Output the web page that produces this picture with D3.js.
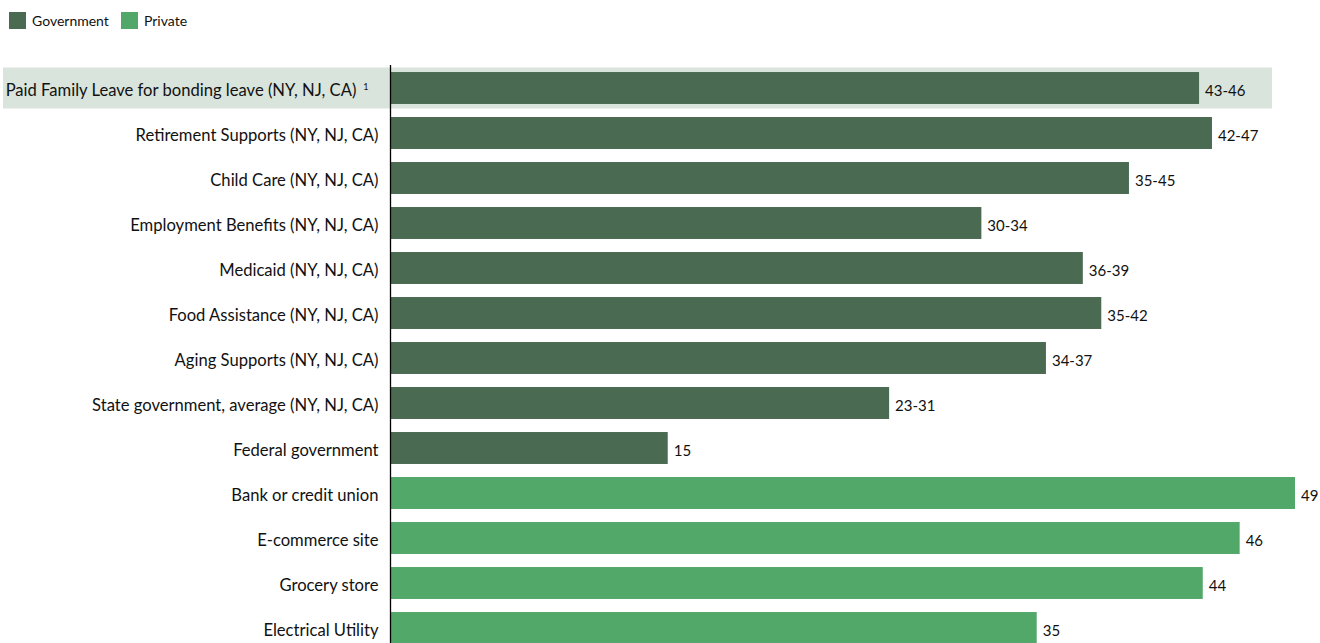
<!DOCTYPE html>
<html>
<head>
<meta charset="utf-8">
<script src="https://cdn.jsdelivr.net/npm/d3@7"></script>
<style>
  body { margin: 0; background: #fff; }
  svg { font-family: Lato, "Open Sans", sans-serif; }
</style>
</head>
<body>
<svg id="chart" width="1320" height="643"></svg>
<script>
// categories, top to bottom
const categories = [
    'Paid Family Leave for bonding leave (NY, NJ, CA)',
    'Retirement Supports (NY, NJ, CA)',
    'Child Care (NY, NJ, CA)',
    'Employment Benefits (NY, NJ, CA)',
    'Medicaid (NY, NJ, CA)',
    'Food Assistance (NY, NJ, CA)',
    'Aging Supports (NY, NJ, CA)',
    'State government, average (NY, NJ, CA)',
    'Federal government',
    'Bank or credit union',
    'E-commerce site',
    'Grocery store',
    'Electrical Utility'
];
const groups = ['Government', 'Government', 'Government', 'Government', 'Government',
    'Government', 'Government', 'Government', 'Government',
    'Private', 'Private', 'Private', 'Private'];
// bar length (ranges drawn near their midpoint)
const values = [43.8, 44.5, 40, 32, 37.5, 38.5, 35.5, 27, 15, 49, 46, 44, 35];
const valueLabels = ['43-46', '42-47', '35-45', '30-34', '36-39', '35-42', '34-37',
    '23-31', '15', '49', '46', '44', '35'];
const legendKeys = ['Government', 'Private'];

const color = d3.scaleOrdinal()
    .domain(legendKeys)
    .range(['#4a6b51', '#52a868']);

const svg = d3.select('#chart');
const margin = {top: 65, left: 391};

const x = d3.scaleLinear()
    .domain([0, 49])
    .range([margin.left, 1295]);
const y = d3.scaleBand()
    .domain(categories)
    .range([65.5, 65.5 + 45 * categories.length])
    .paddingInner(0.29)
    .paddingOuter(0.145);

// highlight band for the first row
const hl = categories[0];
svg.append('rect')
    .attr('x', 3)
    .attr('y', y(hl) + y.bandwidth() / 2 - 20.5)
    .attr('width', 1269)
    .attr('height', 41)
    .attr('fill', '#d9e4dc');

// bars
svg.append('g')
    .selectAll('rect')
    .data(categories).enter().append('rect')
    .attr('x', x(0))
    .attr('y', d => y(d))
    .attr('width', (d, i) => x(values[i]) - x(0))
    .attr('height', y.bandwidth())
    .attr('fill', (d, i) => color(groups[i]));

// value labels
svg.append('g')
    .selectAll('text')
    .data(categories).enter().append('text')
    .attr('x', (d, i) => x(values[i]) + 6)
    .attr('y', d => y(d) + y.bandwidth() / 2 + 3)
    .attr('dy', '0.35em')
    .attr('font-size', 15)
    .attr('fill', '#111')
    .text((d, i) => valueLabels[i]);

// category axis
const yAxis = svg.append('g')
    .attr('transform', `translate(${x(0) - 0.5},0)`)
    .call(d3.axisLeft(y).tickSize(0).tickPadding(12));
yAxis.select('.domain')
    .attr('d', `M0,${margin.top}V643`)
    .attr('stroke', '#000')
    .attr('stroke-width', 1.3);
yAxis.selectAll('text')
    .attr('font-size', 16.6)
    .attr('font-family', 'Lato, "Open Sans", sans-serif')
    .attr('fill', '#111')
    .attr('y', 3)
    .text(d => d);
// footnote marker on the highlighted row
yAxis.selectAll('.tick')
    .filter(d => d === hl)
    .select('text')
    .attr('dx', '-0.6em')
    .append('tspan')
    .attr('font-size', 9)
    .attr('dx', 7)
    .attr('dy', -6)
    .text('1');

// legend
const leg = svg.append('g')
    .selectAll('g')
    .data(legendKeys).enter().append('g')
    .attr('transform', (d, i) => `translate(${[9, 121][i]},12)`);
leg.append('rect')
    .attr('width', 17)
    .attr('height', 17)
    .attr('fill', d => color(d));
leg.append('text')
    .attr('x', 23)
    .attr('y', 9.5)
    .attr('dy', '0.35em')
    .attr('font-size', 14)
    .attr('fill', '#111')
    .text(d => d);
</script>
</body>
</html>
